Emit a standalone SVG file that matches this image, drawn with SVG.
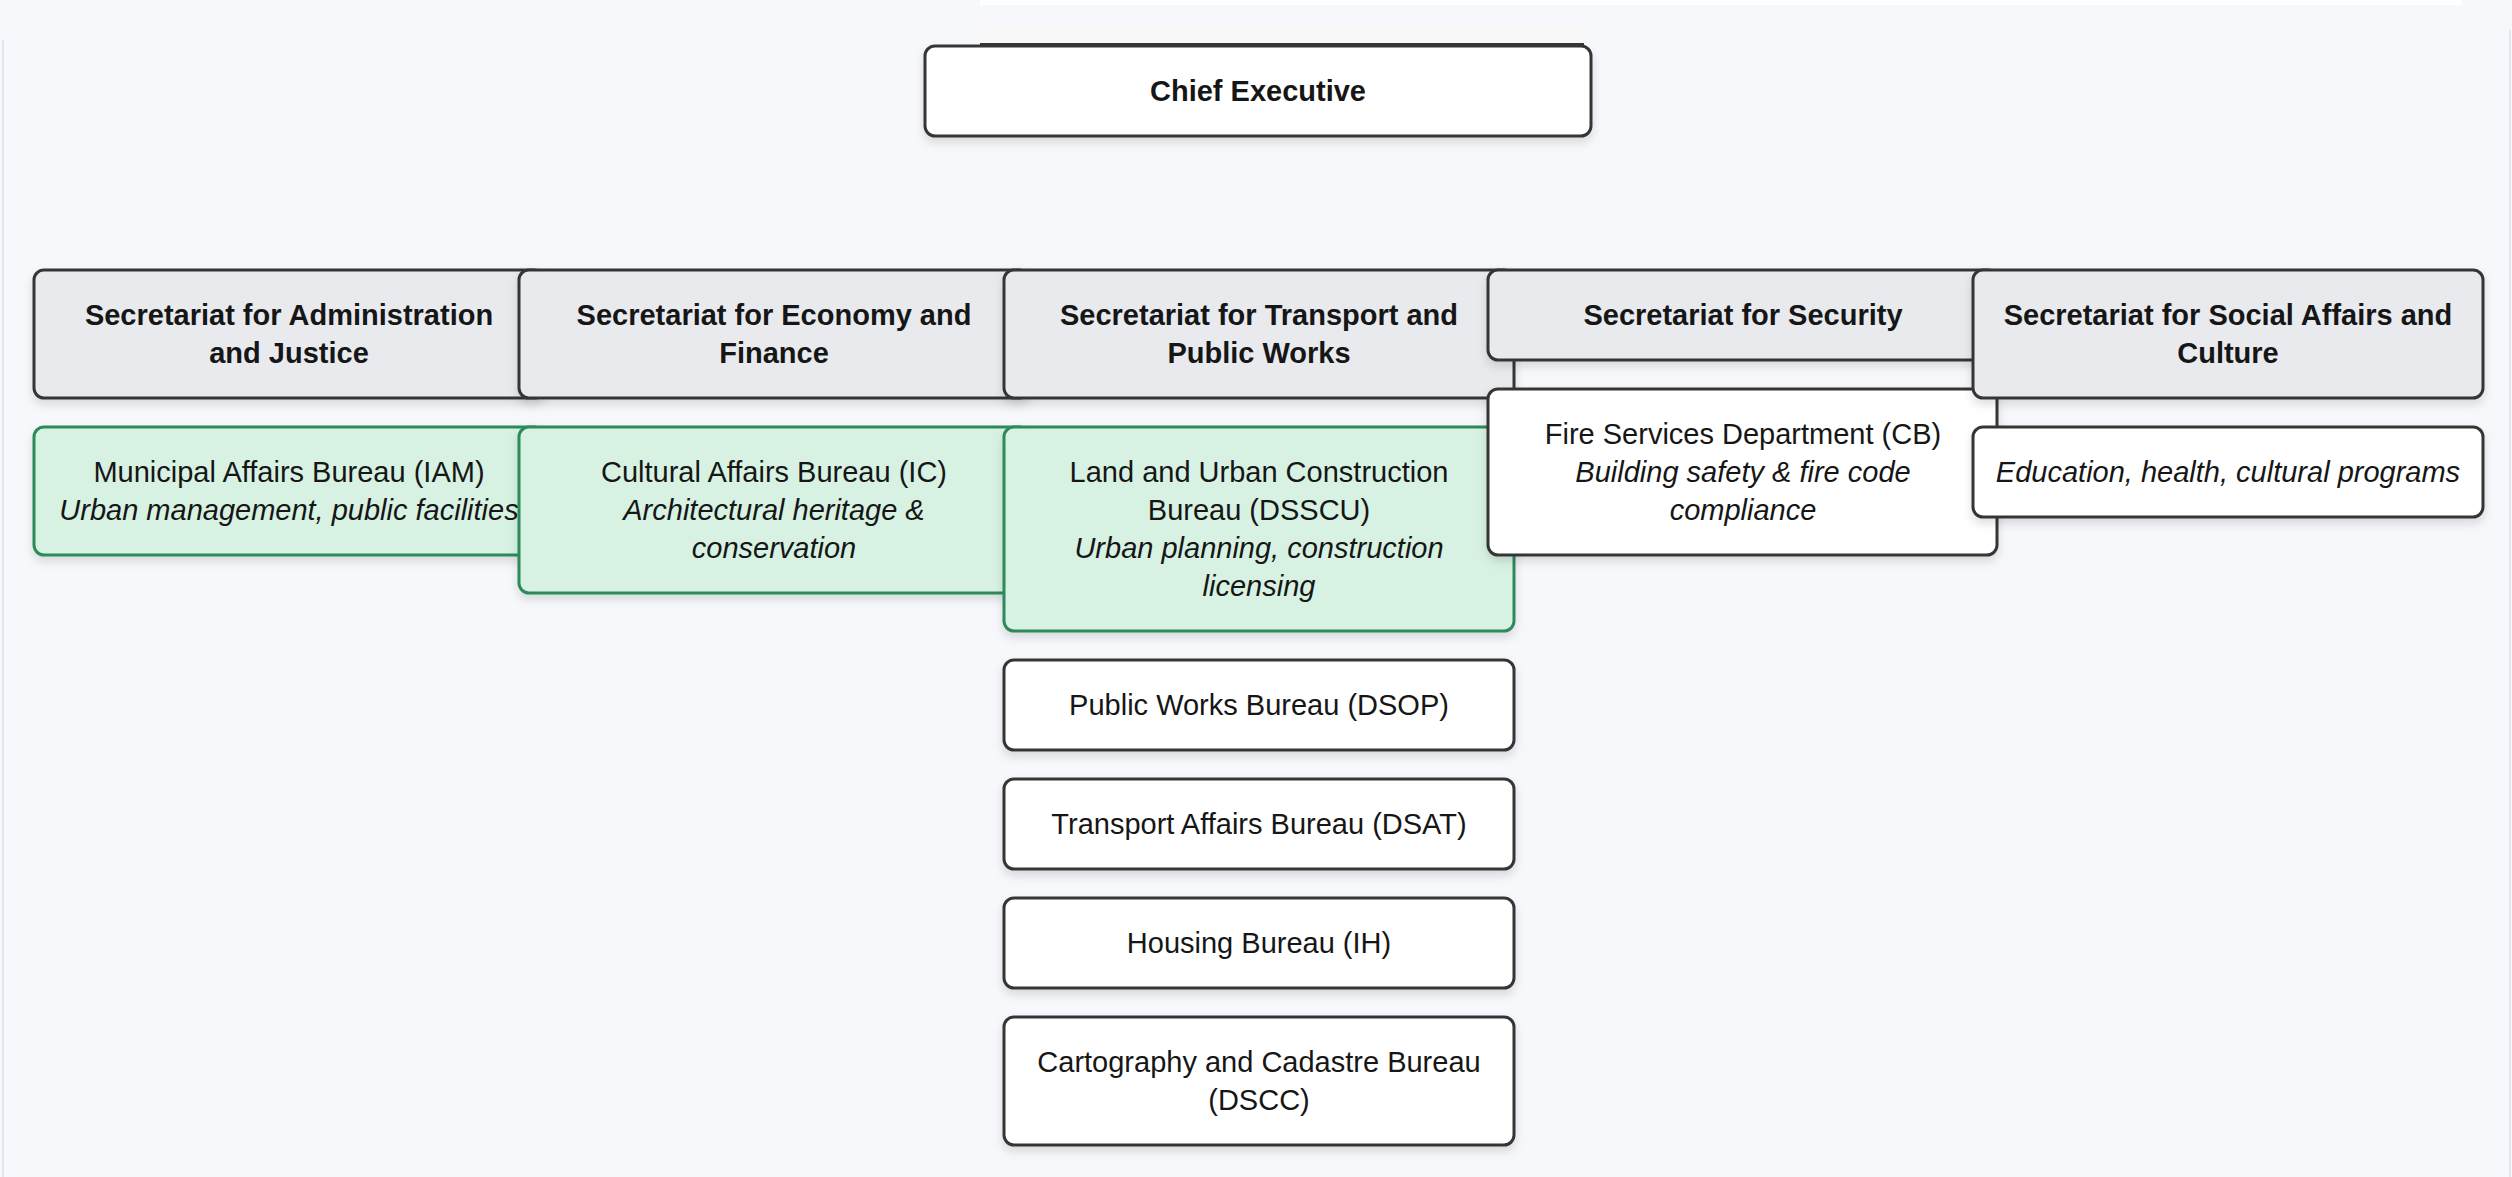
<svg xmlns="http://www.w3.org/2000/svg" width="2512" height="1177" viewBox="0 0 2512 1177">
<defs>
<filter id="sh" x="-10%" y="-20%" width="120%" height="150%">
<feDropShadow dx="0" dy="5" stdDeviation="5" flood-color="#000" flood-opacity="0.13"/>
</filter>
</defs>
<style>
.bx{stroke:#363636;stroke-width:3;filter:url(#sh)}
.sec{fill:#e8eaee}
.wh{fill:#ffffff}
.gr{fill:#d7f2e3;stroke:#2f8a5a}
text{font-family:"Liberation Sans",Arial,sans-serif;font-size:29px;fill:#161616;text-anchor:middle}
.b{font-weight:bold}
.i{font-style:italic}
</style>
<rect x="0" y="0" width="2512" height="1177" fill="#f6f8fb"/>
<rect x="980" y="0" width="1482" height="5" fill="#ffffff"/>
<rect x="980" y="22" width="608" height="22" fill="#f8f8f8"/>
<rect x="2" y="40" width="2" height="1137" fill="#e3e6eb"/>
<rect x="2509" y="30" width="2" height="1147" fill="#e3e6eb"/>
<g id="connectors"></g>
<g id="chief">
<rect class="bx wh" x="925" y="46" width="666" height="90" rx="10"/>
<line x1="980" y1="44" x2="1584" y2="44" stroke="#363636" stroke-width="2"/>
<text class="b" x="1258" y="101">Chief Executive</text>
</g>
<g id="sec-admin">
<rect class="bx sec" x="34" y="270" width="510" height="128" rx="10"/>
<text class="b" x="289" y="325">Secretariat for Administration</text>
<text class="b" x="289" y="363">and Justice</text>
</g>
<g id="iam">
<rect class="bx gr" x="34" y="427" width="510" height="128" rx="10"/>
<text x="289" y="482">Municipal Affairs Bureau (IAM)</text>
<text class="i" x="289" y="520">Urban management, public facilities</text>
</g>
<g id="sec-economy">
<rect class="bx sec" x="519" y="270" width="510" height="128" rx="10"/>
<text class="b" x="774" y="325">Secretariat for Economy and</text>
<text class="b" x="774" y="363">Finance</text>
</g>
<g id="ic">
<rect class="bx gr" x="519" y="427" width="510" height="166" rx="10"/>
<text x="774" y="482">Cultural Affairs Bureau (IC)</text>
<text class="i" x="774" y="520">Architectural heritage &amp;</text>
<text class="i" x="774" y="558">conservation</text>
</g>
<g id="sec-transport">
<rect class="bx sec" x="1004" y="270" width="510" height="128" rx="10"/>
<text class="b" x="1259" y="325">Secretariat for Transport and</text>
<text class="b" x="1259" y="363">Public Works</text>
</g>
<g id="dsscu">
<rect class="bx gr" x="1004" y="427" width="510" height="204" rx="10"/>
<text x="1259" y="482">Land and Urban Construction</text>
<text x="1259" y="520">Bureau (DSSCU)</text>
<text class="i" x="1259" y="558">Urban planning, construction</text>
<text class="i" x="1259" y="596">licensing</text>
</g>
<g id="dsop">
<rect class="bx wh" x="1004" y="660" width="510" height="90" rx="10"/>
<text x="1259" y="715">Public Works Bureau (DSOP)</text>
</g>
<g id="dsat">
<rect class="bx wh" x="1004" y="779" width="510" height="90" rx="10"/>
<text x="1259" y="834">Transport Affairs Bureau (DSAT)</text>
</g>
<g id="ih">
<rect class="bx wh" x="1004" y="898" width="510" height="90" rx="10"/>
<text x="1259" y="953">Housing Bureau (IH)</text>
</g>
<g id="dscc">
<rect class="bx wh" x="1004" y="1017" width="510" height="128" rx="10"/>
<text x="1259" y="1072">Cartography and Cadastre Bureau</text>
<text x="1259" y="1110">(DSCC)</text>
</g>
<g id="sec-security">
<rect class="bx sec" x="1488" y="270" width="510" height="90" rx="10"/>
<text class="b" x="1743" y="325">Secretariat for Security</text>
</g>
<g id="cb">
<rect class="bx wh" x="1488" y="389" width="509" height="166" rx="10"/>
<text x="1743" y="444">Fire Services Department (CB)</text>
<text class="i" x="1743" y="482">Building safety &amp; fire code</text>
<text class="i" x="1743" y="520">compliance</text>
</g>
<g id="sec-social">
<rect class="bx sec" x="1973" y="270" width="510" height="128" rx="10"/>
<text class="b" x="2228" y="325">Secretariat for Social Affairs and</text>
<text class="b" x="2228" y="363">Culture</text>
</g>
<g id="social-programs">
<rect class="bx wh" x="1973" y="427" width="510" height="90" rx="10"/>
<text class="i" x="2228" y="482">Education, health, cultural programs</text>
</g>
</svg>
